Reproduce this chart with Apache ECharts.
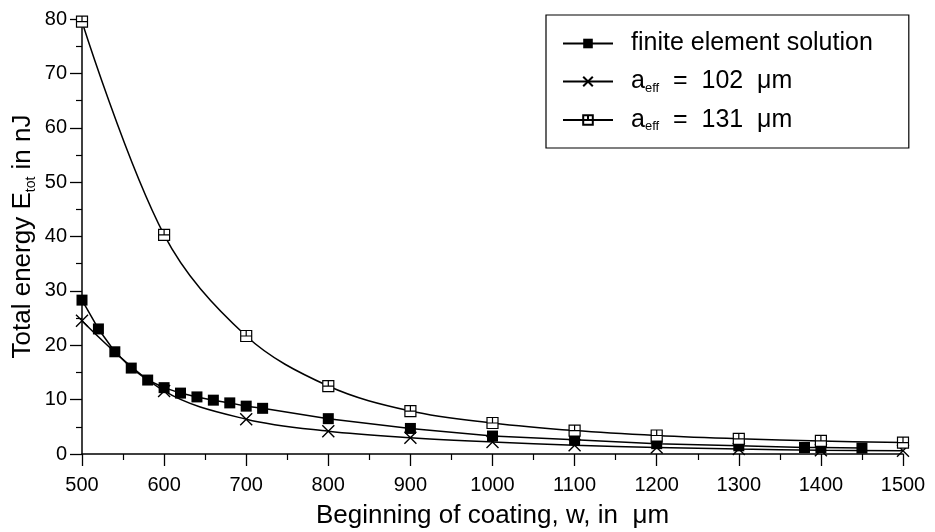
<!DOCTYPE html>
<html>
<head>
<meta charset="utf-8">
<script src="https://cdn.jsdelivr.net/npm/echarts@6/dist/echarts.min.js"></script>
<style>html,body{margin:0;padding:0;background:#fff}#c{width:935px;height:532px}</style>
</head>
<body>
<div id="c"></div>
<script>
const feX = [500,520,540,560,580,600,620,640,660,680,700,720,800,900,1000,1100,1200,1300,1380,1400,1450];
const feY = [28.3,23.0,18.8,15.8,13.6,12.2,11.2,10.5,9.9,9.4,8.8,8.4,6.5,4.7,3.3,2.6,1.9,1.5,1.2,1.2,1.1];
const a102X = [500,600,700,800,900,1000,1100,1200,1300,1400,1500];
const a102Y = [24.5,11.6,6.4,4.2,3.0,2.2,1.6,1.2,0.9,0.7,0.6];
const a131X = [500,600,700,800,900,1000,1100,1200,1300,1400,1500];
const a131Y = [79.5,40.3,21.7,12.5,7.9,5.7,4.3,3.4,2.8,2.4,2.1];
const xTicks = [500,600,700,800,900,1000,1100,1200,1300,1400,1500];
const yTicks = [0,10,20,30,40,50,60,70,80];

const names = ['finite element solution','a102','a131'];
const zip = (xs, ys) => xs.map((x, i) => [x, ys[i]]);
const FONT = '"Liberation Sans", Arial, sans-serif';
const subRich = {
  t: {fontFamily: FONT, fontSize: 25, color: '#000', lineHeight: 26, padding: [0, 0, 0, 0]},
  s: {fontFamily: FONT, fontSize: 13, color: '#000', lineHeight: 26, verticalAlign: 'bottom', padding: [9, 0, 0, 0]}
};

const chart = echarts.init(document.getElementById('c'), null, {renderer: 'canvas'});
chart.setOption({
  animation: false,
  backgroundColor: '#fff',
  grid: {left: 82, right: 32, top: 19, bottom: 78, containLabel: false, outerBoundsMode: 'none'},
  legend: {
    orient: 'vertical', left: 546, top: 15,
    padding: [16, 36, 15, 16],
    backgroundColor: '#fff',
    borderColor: '#000', borderWidth: 1.2,
    itemWidth: 50, itemHeight: 12, itemGap: 13,
    data: names,
    formatter: function (n) {
      if (n === 'a102') return '{p|}{t|a}{s|eff}{t|  =  102  μm}';
      if (n === 'a131') return '{p|}{t|a}{s|eff}{t|  =  131  μm}';
      return '{p|}{t|' + n + '}';
    },
    textStyle: {
      fontFamily: FONT, fontSize: 25, color: '#000',
      rich: Object.assign({p: {width: 13, lineHeight: 26}}, subRich)
    }
  },
  xAxis: {
    type: 'value', min: 500, max: 1500, interval: 100,
    name: 'Beginning of coating, w, in  μm', nameLocation: 'middle', nameGap: 47,
    nameMoveOverlap: false,
    nameTextStyle: {fontFamily: FONT, fontSize: 26, color: '#000', lineHeight: 30},
    axisLine: {show: true, lineStyle: {color: '#000', width: 1.5}},
    axisTick: {show: true, length: 12, lineStyle: {color: '#000', width: 1.3}},
    minorTick: {show: true, splitNumber: 2, length: 6, lineStyle: {color: '#000', width: 1.2}},
    splitLine: {show: false},
    axisLabel: {fontFamily: FONT, fontSize: 20, color: '#000', margin: 21,
      formatter: v => xTicks.indexOf(v) >= 0 ? String(v) : ''}
  },
  yAxis: {
    type: 'value', min: 0, max: 80, interval: 10,
    name: '{t|Total energy E}{s|tot}{t| in nJ}', nameLocation: 'middle', nameGap: 44,
    nameMoveOverlap: false,
    nameTextStyle: {fontFamily: FONT, fontSize: 26, color: '#000',
      rich: {
        t: {fontFamily: FONT, fontSize: 26, color: '#000', lineHeight: 30},
        s: {fontFamily: FONT, fontSize: 14, color: '#000', lineHeight: 30, verticalAlign: 'bottom', padding: [10, 0, 0, 0]}
      }},
    axisLine: {show: true, lineStyle: {color: '#000', width: 1.5}},
    axisTick: {show: true, length: 12, lineStyle: {color: '#000', width: 1.3}},
    minorTick: {show: true, splitNumber: 2, length: 6, lineStyle: {color: '#000', width: 1.2}},
    splitLine: {show: false},
    axisLabel: {fontFamily: FONT, fontSize: 20, color: '#000', margin: 15,
      formatter: v => yTicks.indexOf(v) >= 0 ? String(v) : ''}
  },
  series: [
    {
      name: names[0], type: 'line', data: zip(feX, feY),
      symbol: 'rect', symbolSize: 11, clip: false,
      itemStyle: {color: '#000'},
      lineStyle: {color: '#000', width: 1.5}
    },
    {
      name: names[1], type: 'line', data: zip(a102X, a102Y), smooth: 0.35,
      symbol: 'path://M0,0L10,10M10,0L0,10', symbolSize: 12, clip: false,
      itemStyle: {color: 'rgba(0,0,0,0)', borderColor: '#000', borderWidth: 1.4},
      lineStyle: {color: '#000', width: 1.5}
    },
    {
      name: names[2], type: 'line', data: zip(a131X, a131Y), smooth: 0.35,
      symbol: 'path://M0,0L10,0L10,10L0,10Z M5,0L5,5 M0,5L10,5', symbolSize: 11, clip: false,
      itemStyle: {color: '#fff', borderColor: '#000', borderWidth: 1.2},
      lineStyle: {color: '#000', width: 1.5}
    }
  ]
});
</script>
</body>
</html>
